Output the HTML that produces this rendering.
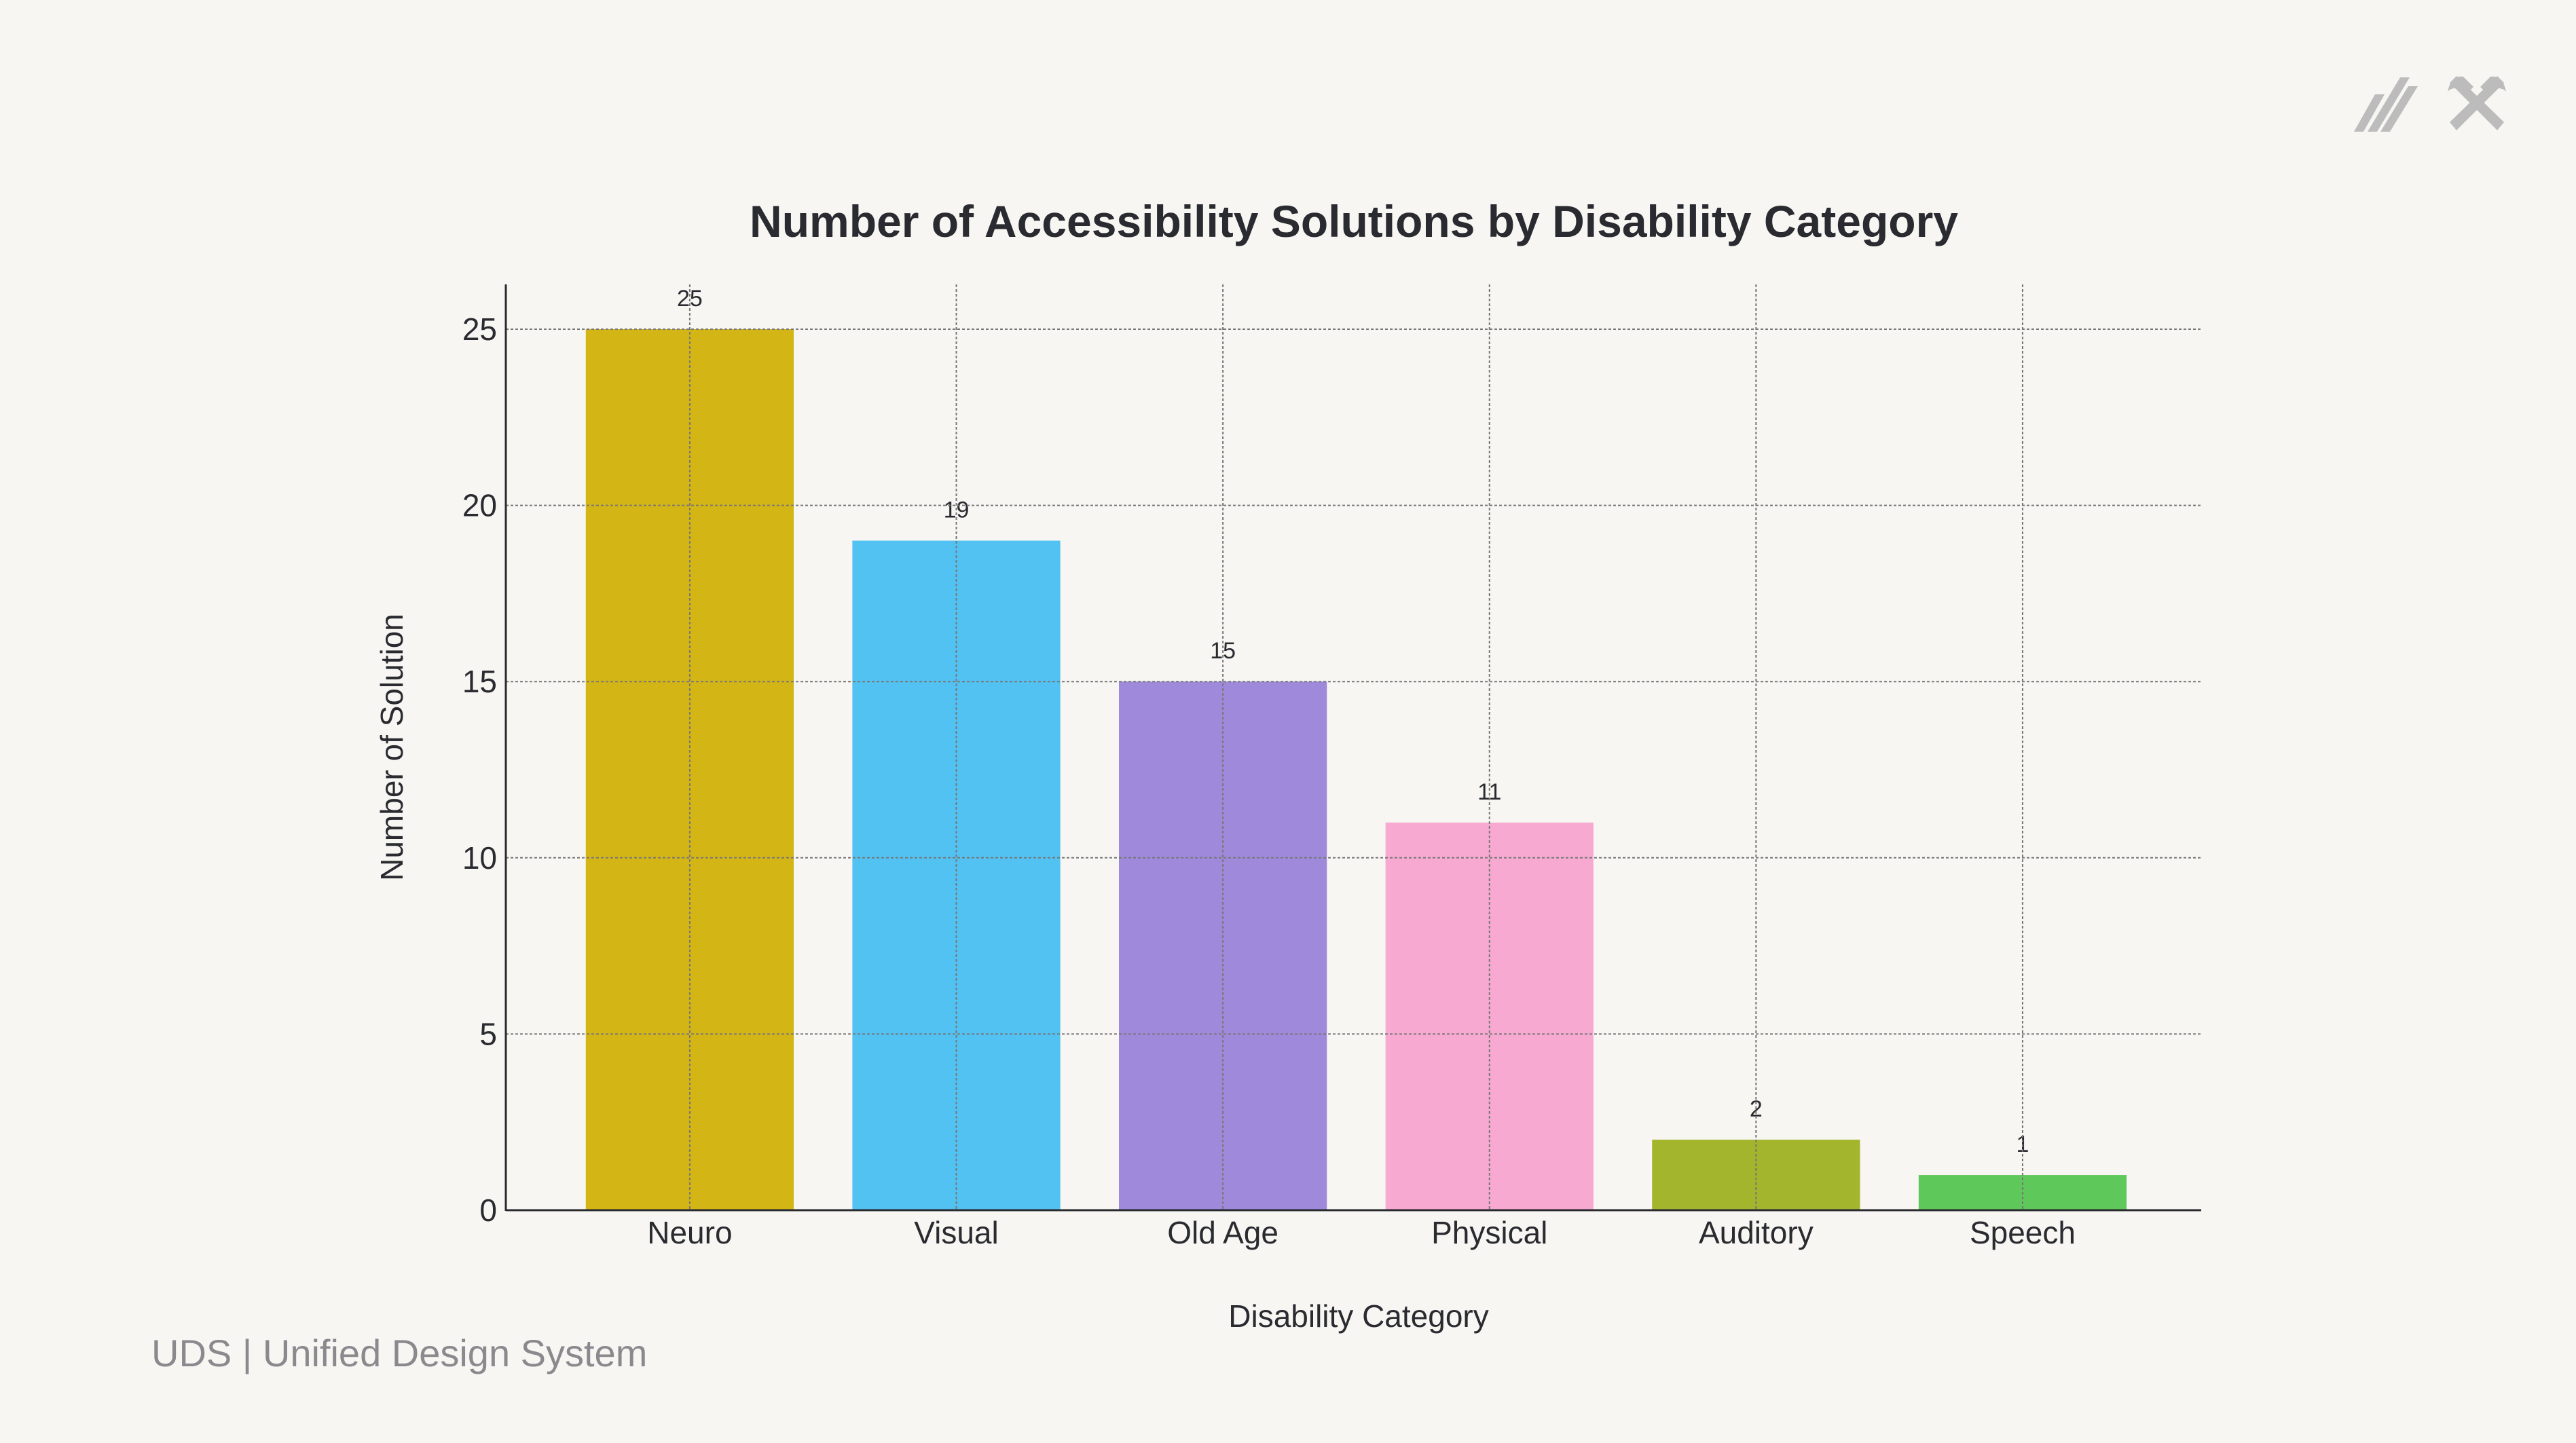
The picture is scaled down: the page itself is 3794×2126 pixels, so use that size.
<!DOCTYPE html>
<html><head><meta charset="utf-8"><style>
html,body{margin:0;padding:0;background:#f7f6f2;}
svg{display:block;font-family:"Liberation Sans",sans-serif;}
</style></head><body>
<svg id="chart" width="3794" height="2126" viewBox="0 0 3794 2126">
<rect width="3794" height="2126" fill="#f7f6f2"/>
<text x="1994" y="349" text-anchor="middle" font-size="66" font-weight="bold" fill="#2a2b30">Number of Accessibility Solutions by Disability Category</text>
<g id="grid"></g><g id="bars"></g><g id="labels"></g>
<text x="2001" y="1955" text-anchor="middle" font-size="46" fill="#2a2b30">Disability Category</text>
<text transform="translate(593,1101) rotate(-90)" text-anchor="middle" font-size="46" fill="#2a2b30">Number of Solution</text>
<text x="223" y="2013" font-size="56" fill="#8a8a8e">UDS | Unified Design System</text>
<g fill="#bcbcbc">
<polygon points="3467,194 3481,194 3512,139 3498,139"/>
<polygon points="3487,194 3501,194 3549,114 3535,114"/>
<polygon points="3506,194 3520,194 3561,127 3547,127"/>
</g>
<g fill="#bcbcbc">
<polygon points="3608,180 3618,192 3688,122 3678,112"/>
<polygon points="3678,192 3688,180 3618,112 3608,122"/>
<path d="M3605,135 Q3610,110 3628,113 L3643,128 L3633,138 Q3615,124 3605,135Z"/>
<path d="M3691,135 Q3686,110 3668,113 L3653,128 L3663,138 Q3681,124 3691,135Z"/>
</g>
</svg>
<script>
const categories=["Neuro","Visual","Old Age","Physical","Auditory","Speech"];
const values=[25,19,15,11,2,1];
const colors=["#d4b516","#52c2f2","#9e89db","#f7a9d1","#a2b52c","#5fc85a"];
const yTicks=[0,5,10,15,20,25];
const NS="http://www.w3.org/2000/svg";
const L=745,R=3242,T=419,B=1783;
const xMin=-0.69,xMax=5.67,yMax=(B-T)/((B-485)/25);
function xs(i){return L+(i-xMin)/(xMax-xMin)*(R-L);}
function ys(v){return B-v/yMax*(B-T);}
const unit=(R-L)/(xMax-xMin);
function mk(tag,attrs,parent){const e=document.createElementNS(NS,tag);for(const k in attrs)e.setAttribute(k,attrs[k]);parent.appendChild(e);return e;}
const grid=document.getElementById('grid'),bars=document.getElementById('bars'),labels=document.getElementById('labels'),svg=document.getElementById('chart');
categories.forEach((c,i)=>{
  const x=xs(i),w=0.78*unit,v=values[i];
  const b=mk('rect',{x:x-w/2,y:ys(v),width:w,height:B-ys(v),fill:colors[i]},bars);
  
  
  const t=mk('text',{x:x,y:ys(v)-34,'text-anchor':'middle','font-size':34,fill:'#2a2b30'},labels);t.textContent=v;
  
  
  const tl=mk('text',{x:x,y:1832,'text-anchor':'middle','font-size':46,fill:'#2a2b30'},labels);tl.textContent=c;
  
  
});
yTicks.forEach(v=>{
  const t=mk('text',{x:732,y:ys(v)+16,'text-anchor':'end','font-size':46,fill:'#2a2b30'},labels);t.textContent=v;
  
  
  if(v>0){const g=mk('line',{x1:L,x2:R,y1:ys(v),y2:ys(v),stroke:'#777','stroke-width':2,'stroke-dasharray':'4 3'},svg);
  
  }
});
categories.forEach((c,i)=>{
  const g=mk('line',{x1:xs(i),x2:xs(i),y1:T,y2:B,stroke:'#777','stroke-width':2,'stroke-dasharray':'4 3'},svg);
  
  
});
const ya=mk('line',{x1:L,x2:L,y1:T,y2:B+1,stroke:'#2a2b30','stroke-width':3},svg);


const xa=mk('line',{x1:L,x2:R,y1:B,y2:B,stroke:'#2a2b30','stroke-width':3},svg);


</script>
</body></html>
